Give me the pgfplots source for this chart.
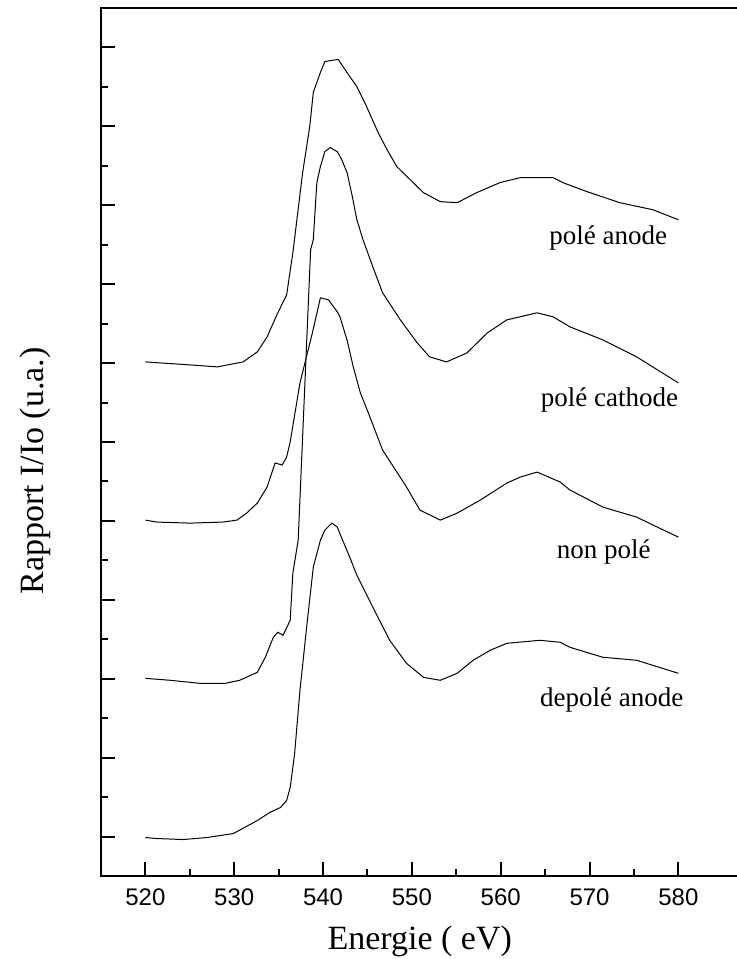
\documentclass[border=0pt]{standalone}
\usepackage{fontspec}
\setmainfont{Liberation Serif}
\newfontfamily\arialf{Liberation Sans}
\usepackage{pgfplots}
\pgfplotsset{compat=1.18}

% spectra, offset vertically (arbitrary units)
\pgfplotstableread{
e y
520.0 6.015
525.0 5.977
528.1 5.952
531.0 6.015
532.6 6.142
533.7 6.332
534.8 6.612
535.9 6.865
536.6 7.398
537.7 8.414
538.5 8.997
538.9 9.429
539.7 9.683
540.2 9.822
541.7 9.848
543.0 9.632
543.8 9.505
544.9 9.251
546.2 8.921
547.2 8.706
548.3 8.490
549.8 8.325
551.3 8.160
553.2 8.046
555.1 8.033
557.3 8.160
559.9 8.287
562.2 8.350
565.9 8.350
567.0 8.287
569.7 8.173
573.4 8.033
577.1 7.944
580.0 7.817
}\poleanode

\pgfplotstableread{
e y
520.0 2.005
522.8 1.980
526.1 1.942
529.0 1.942
530.6 1.980
532.6 2.081
533.5 2.272
534.4 2.525
534.9 2.589
535.5 2.551
536.3 2.741
536.6 3.338
537.2 3.756
538.6 7.437
538.9 7.563
539.3 8.287
539.7 8.490
540.2 8.680
540.8 8.731
541.6 8.680
542.1 8.579
542.7 8.414
543.3 8.109
543.8 7.817
544.5 7.563
545.6 7.221
546.7 6.891
548.7 6.548
550.6 6.256
552.0 6.079
553.9 6.015
556.2 6.129
558.5 6.383
560.7 6.548
564.1 6.637
565.9 6.586
567.8 6.459
571.5 6.294
575.3 6.079
580.0 5.749
}\polecathode

\pgfplotstableread{
e y
520.0 4.010
521.3 3.985
525.0 3.972
528.7 3.985
530.3 4.010
531.4 4.099
532.6 4.226
533.7 4.429
534.6 4.734
535.4 4.708
535.9 4.810
536.3 5.000
537.4 5.749
538.8 6.383
539.7 6.827
540.6 6.802
541.6 6.650
541.9 6.586
542.7 6.294
543.4 5.952
544.2 5.622
545.1 5.368
546.7 4.898
549.4 4.429
550.9 4.137
553.2 4.010
555.1 4.099
557.7 4.264
560.7 4.480
562.2 4.556
564.1 4.619
566.7 4.492
567.8 4.391
571.5 4.175
575.3 4.048
580.0 3.794
}\nonpole

\pgfplotstableread{
e y
520.0 -0.013
521.3 -0.025
524.2 -0.038
526.9 -0.013
529.9 0.038
532.6 0.203
534.0 0.305
535.2 0.368
535.9 0.457
536.3 0.622
536.8 1.053
537.4 1.853
538.2 2.703
538.9 3.414
539.7 3.756
540.2 3.883
541.0 3.972
541.6 3.921
542.2 3.756
543.0 3.541
543.8 3.312
545.6 2.906
547.5 2.487
549.4 2.195
551.3 2.018
553.2 1.980
555.1 2.069
556.9 2.234
558.8 2.360
560.7 2.449
564.4 2.487
566.7 2.462
567.8 2.398
571.5 2.272
575.3 2.234
580.0 2.069
}\depoleanode

\begin{document}
\begin{tikzpicture}
\begin{axis}[
    name=ax,
    scale only axis,
    width=318.7pt, height=434pt,
    xmin=515, xmax=586.76,
    ymin=-0.5, ymax=10.5,
    xtick={520,530,...,580},
    minor x tick num=1,
    ytick={0,1,...,10},
    minor y tick num=1,
    yticklabels={},
    xtick pos=left, ytick pos=left,
    tick align=inside,
    major tick length=7pt,
    minor tick length=3.5pt,
    tick style={black, line width=1pt},
    axis line style={line width=1pt},
    /pgf/number format/assume math mode=true,
    xticklabel style={font=\arialf\fontsize{12}{14}\selectfont, yshift=-3pt},
    xlabel={Energie ( eV)},
    ylabel={Rapport I/Io (u.a.)},
    label style={font=\fontsize{17}{20}\selectfont},
    xlabel style={at={(axis description cs:0.5,0)}, anchor=north, yshift=-21.5pt},
    ylabel style={at={(axis description cs:-0.1035,0.4666)}, anchor=center},
    clip=false,
]
\addplot[black, line width=0.5pt, no markers] table[x=e, y=y] {\poleanode};
\addplot[black, line width=0.5pt, no markers] table[x=e, y=y] {\polecathode};
\addplot[black, line width=0.5pt, no markers] table[x=e, y=y] {\nonpole};
\addplot[black, line width=0.5pt, no markers] table[x=e, y=y] {\depoleanode};

\node[font=\fontsize{13.5}{16}\selectfont] at (axis cs:572.1,7.59) {polé anode};
\node[font=\fontsize{13.5}{16}\selectfont] at (axis cs:572.25,5.53) {polé cathode};
\node[font=\fontsize{13.5}{16}\selectfont] at (axis cs:571.6,3.60) {non polé};
\node[font=\fontsize{13.5}{16}\selectfont] at (axis cs:572.5,1.73) {depolé anode};
\end{axis}
\pgfresetboundingbox
\path[use as bounding box] ([shift={(-50.5pt,-41.5pt)}]ax.south west) rectangle ([shift={(-1.2pt,4pt)}]ax.north east);
\end{tikzpicture}
\end{document}
